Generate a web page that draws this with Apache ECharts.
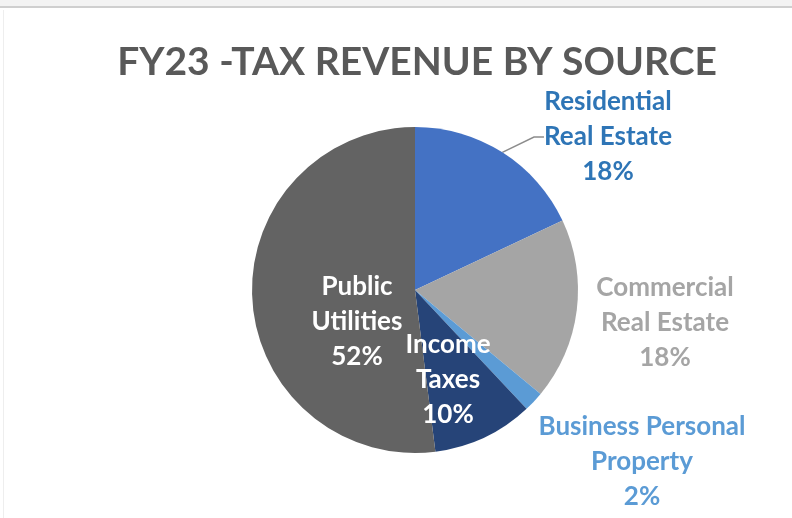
<!DOCTYPE html>
<html>
<head>
<meta charset="utf-8">
<script src="https://cdn.jsdelivr.net/npm/echarts@6/dist/echarts.min.js"></script>
<style>
  html, body { margin: 0; padding: 0; background: #ffffff; }
  #chart { width: 792px; height: 518px; }
</style>
</head>
<body>
<div id="chart"></div>
<script>
// FY23 tax revenue shares, clockwise from 12 o'clock
const categories = [
  'Residential\nReal Estate',
  'Commercial\nReal Estate',
  'Business Personal\nProperty',
  'Income\nTaxes',
  'Public\nUtilities'
];
const shares = [18, 18, 2, 10, 52];
const sliceColors = ['#4472C4', '#A5A5A5', '#5B9BD5', '#264478', '#636363'];
const labelColors = ['#2E75B6', '#A5A5A5', '#5B9BD5', '#ffffff', '#ffffff'];

// label anchor points (center of each text block)
const labelSpots = [
  [608, 137],
  [665, 323],
  [642, 462],
  [448, 380],
  [357, 322]
];
const insideIdx = [3, 4];

const chart = echarts.init(document.getElementById('chart'), null, { renderer: 'canvas' });

chart.setOption({
  backgroundColor: '#ffffff',
  animation: false,
  title: {
    text: 'FY23 -TAX REVENUE BY SOURCE',
    left: 412,
    top: 38,
    textAlign: 'center',
    textStyle: {
      fontFamily: 'Lato',
      fontWeight: 'bold',
      fontSize: 39,
      color: '#595959'
    }
  },
  graphic: [
    { type: 'rect', shape: { x: 0, y: 0, width: 792, height: 6 }, style: { fill: '#f3f3f3' }, silent: true },
    { type: 'rect', shape: { x: 0, y: 6, width: 792, height: 2 }, style: { fill: '#cfcfcf' }, silent: true },
    { type: 'rect', shape: { x: 3, y: 10, width: 1, height: 508 }, style: { fill: '#eeeeee' }, silent: true }
  ],
  series: [{
    type: 'pie',
    center: [415, 290],
    radius: [0, 163],
    startAngle: 90,
    clockwise: true,
    avoidLabelOverlap: false,
    itemStyle: { borderWidth: 0 },
    data: categories.map((name, i) => ({
      name: name,
      value: shares[i],
      itemStyle: { color: sliceColors[i] },
      label: {
        position: insideIdx.includes(i) ? 'inside' : 'outside',
        color: labelColors[i]
      },
      labelLine: { show: i === 0 }
    })),
    label: {
      show: true,
      formatter: p => p.name + '\n' + p.value + '%',
      fontFamily: 'Lato',
      fontWeight: 'bold',
      fontSize: 26,
      lineHeight: 35,
      align: 'center'
    },
    labelLine: {
      show: true,
      length: 10,
      length2: 10,
      lineStyle: { color: '#8c8c8c', width: 1.5 }
    },
    labelLayout: params => ({
      x: labelSpots[params.dataIndex][0],
      y: labelSpots[params.dataIndex][1],
      align: 'center',
      verticalAlign: 'middle'
    })
  }]
});
</script>
</body>
</html>
